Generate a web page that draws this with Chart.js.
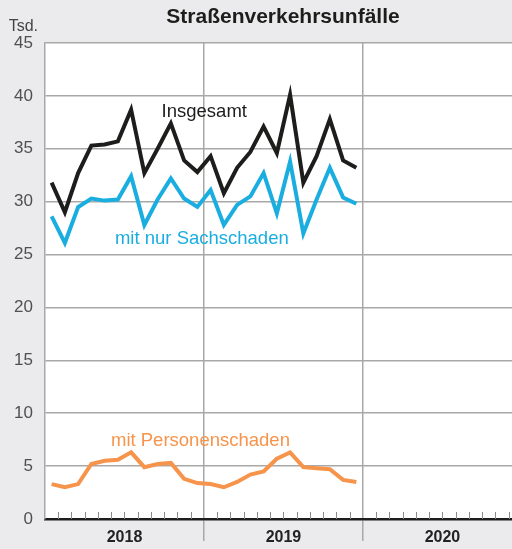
<!DOCTYPE html>
<html>
<head>
<meta charset="utf-8">
<script src="https://cdn.jsdelivr.net/npm/chart.js@4.4.1/dist/chart.umd.min.js"></script>
<style>
  body { margin: 0; background: #ebebed; }
  #wrap { width: 512px; height: 549px; }
</style>
</head>
<body>
<div id="wrap"><canvas id="unfaelle"></canvas></div>
<script>
// monthly values in thousands, Jan 2018 .. Dec 2019
var years = ['2018', '2019', '2020'];
var insgesamt = [31.8, 29.0, 32.7, 35.3, 35.4, 35.7, 38.7, 32.7, 35.0, 37.4, 33.9, 32.8,
                 34.3, 30.8, 33.2, 34.7, 37.1, 34.6, 40.1, 31.8, 34.3, 37.8, 33.9, 33.2];
var sachschaden = [28.6, 26.1, 29.5, 30.3, 30.1, 30.2, 32.4, 27.8, 30.2, 32.2, 30.3, 29.5,
                   31.1, 27.8, 29.7, 30.5, 32.7, 28.9, 33.8, 27.0, 30.2, 33.2, 30.4, 29.8];
var personenschaden = [3.3, 3.0, 3.3, 5.2, 5.5, 5.6, 6.3, 4.9, 5.2, 5.3, 3.8, 3.4,
                       3.3, 3.0, 3.5, 4.2, 4.5, 5.7, 6.3, 4.9, 4.8, 4.7, 3.7, 3.5];
var yTicks = [0, 5, 10, 15, 20, 25, 30, 35, 40, 45];

var colBlack = '#1d1d1b';
var colBlue = '#1aaee0';
var colOrange = '#f6944b';
var colGrid = '#a8a8a8';

// each point sits in the middle of its month
function toPoints(arr) {
  return arr.map(function(v, i) { return { x: i + 0.5, y: v }; });
}

// series names written next to the lines: [text, month, value, colour]
var seriesLabels = [
  ['Insgesamt', 8.8, 38.0, colBlack],
  ['mit nur Sachschaden', 5.28, 26.0, colBlue],
  ['mit Personenschaden', 4.98, 6.93, colOrange]
];

var decor = {
  id: 'decor',
  beforeDraw: function(chart) {
    var a = chart.chartArea, c = chart.ctx;
    c.save();
    c.fillStyle = '#ffffff';
    c.fillRect(a.left, a.top, a.right - a.left, a.bottom - a.top);
    c.restore();
  },
  afterDatasetsDraw: function(chart) {
    var c = chart.ctx, a = chart.chartArea;
    var xs = chart.scales.x, ys = chart.scales.y;
    c.save();
    // month ticks pointing up from the axis
    c.strokeStyle = '#8a8a8a';
    c.lineWidth = 1;
    for (var k = 1; k < 36; k++) {
      if (k % 12 === 0) continue;
      var px = Math.round(xs.getPixelForValue(k)) + 0.5;
      if (px > a.right) break;
      c.beginPath();
      c.moveTo(px, a.bottom - 7);
      c.lineTo(px, a.bottom);
      c.stroke();
    }
    // title and unit
    c.fillStyle = '#1d1d1b';
    c.font = 'bold 21px "Liberation Sans", Arial, sans-serif';
    c.textAlign = 'center';
    c.textBaseline = 'middle';
    c.fillText('Straßenverkehrsunfälle', 283, 17);
    c.fillStyle = '#444444';
    c.font = '16px "Liberation Sans", Arial, sans-serif';
    c.textAlign = 'right';
    c.fillText('Tsd.', 38, 27);
    // series names
    c.textAlign = 'left';
    c.textBaseline = 'alphabetic';
    c.font = '18.5px "Liberation Sans", Arial, sans-serif';
    seriesLabels.forEach(function(l) {
      c.fillStyle = l[3];
      c.fillText(l[0], xs.getPixelForValue(l[1]), ys.getPixelForValue(l[2]));
    });
    c.restore();
  }
};

var ctx = document.getElementById('unfaelle');

var myChart = new Chart(ctx, {
  type: 'line',
  data: {
    datasets: [
      { label: 'Insgesamt', data: toPoints(insgesamt), borderColor: colBlack },
      { label: 'mit nur Sachschaden', data: toPoints(sachschaden), borderColor: colBlue },
      { label: 'mit Personenschaden', data: toPoints(personenschaden), borderColor: colOrange }
    ]
  },
  options: {
    responsive: true,
    maintainAspectRatio: false,
    animation: false,
    layout: { padding: { top: 43, left: 0, right: 0, bottom: 0 } },
    elements: {
      line: { borderWidth: 4, tension: 0, fill: false, borderJoinStyle: 'miter' },
      point: { radius: 0 }
    },
    plugins: { legend: { display: false }, tooltip: { enabled: false } },
    scales: {
      x: {
        type: 'linear',
        min: 0,
        max: 35.25,
        afterBuildTicks: function(s) {
          s.ticks = [0, 6, 12, 18, 24, 30].map(function(v) { return { value: v }; });
        },
        afterFit: function(s) { s.height = 30; },
        border: { color: '#1d1d1b', width: 2.5 },
        grid: {
          lineWidth: 1.5,
          tickLength: 22,
          color: function(g) {
            var v = g.tick ? g.tick.value : 0;
            return (v > 0 && v % 12 === 0) ? colGrid : 'rgba(0,0,0,0)';
          }
        },
        ticks: {
          autoSkip: false,
          maxRotation: 0,
          padding: -13,
          color: '#222222',
          font: { family: '"Liberation Sans", Arial, sans-serif', size: 16, weight: 'bold' },
          callback: function(v) {
            return v % 12 === 6 ? years[Math.floor(v / 12)] : '';
          }
        }
      },
      y: {
        min: 0,
        max: 45,
        afterBuildTicks: function(s) {
          s.ticks = yTicks.map(function(v) { return { value: v }; });
        },
        afterFit: function(s) { s.width = 45; },
        border: { color: colGrid, width: 1.5 },
        grid: { color: colGrid, lineWidth: 1.5, drawTicks: false },
        ticks: {
          padding: 12,
          color: '#505050',
          font: { family: '"Liberation Sans", Arial, sans-serif', size: 17 }
        }
      }
    }
  },
  plugins: [decor]
});
</script>
</body>
</html>
